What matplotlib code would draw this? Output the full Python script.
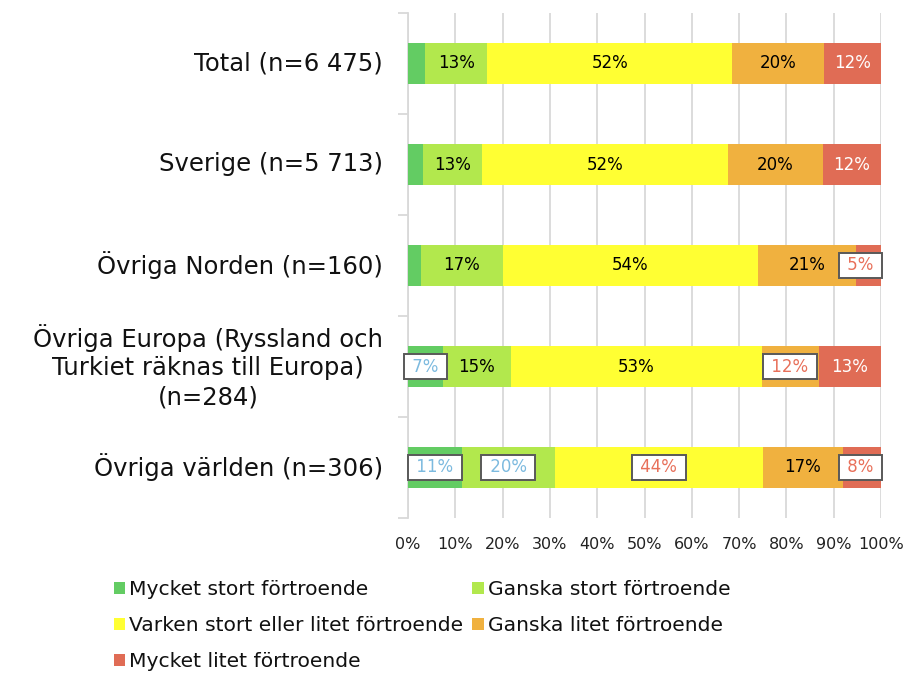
import matplotlib
matplotlib.use("Agg")
import matplotlib.pyplot as plt
from matplotlib.patches import Patch
from matplotlib.transforms import blended_transform_factory, offset_copy
import numpy as np

categories = [
    "Total (n=6 475)",
    "Sverige (n=5 713)",
    "Övriga Norden (n=160)",
    "Övriga Europa (Ryssland och\nTurkiet räknas till Europa)\n(n=284)",
    "Övriga världen (n=306)",
]
series_names = [
    "Mycket stort förtroende",
    "Ganska stort förtroende",
    "Varken stort eller litet förtroende",
    "Ganska litet förtroende",
    "Mycket litet förtroende",
]
# values in percent (per category)
mycket_stort = [3.6, 3.1, 2.7, 7.3, 11.4]
ganska_stort = [13.2, 12.5, 17.3, 14.4, 19.6]
varken = [51.7, 52.1, 54.1, 53.1, 44.1]
ganska_litet = [19.5, 20.0, 20.7, 12.0, 16.8]
mycket_litet = [12.0, 12.3, 5.2, 13.2, 8.1]

# displayed labels ("" = no label)
lab_mycket_stort = ["", "", "", "7%", "11%"]
lab_ganska_stort = ["13%", "13%", "17%", "15%", "20%"]
lab_varken = ["52%", "52%", "54%", "53%", "44%"]
lab_ganska_litet = ["20%", "20%", "21%", "12%", "17%"]
lab_mycket_litet = ["12%", "12%", "5%", "13%", "8%"]

xticks = [0, 10, 20, 30, 40, 50, 60, 70, 80, 90, 100]
xticklabels = ["0%", "10%", "20%", "30%", "40%", "50%", "60%", "70%", "80%", "90%", "100%"]

# styling
colors = ["#63cc63", "#b2e84d", "#ffff33", "#f0b13f", "#e06c55"]
plain_text_colors = ["black", "black", "black", "black", "white"]
boxed_text_colors = ["#7cbadf", "#7cbadf", "#e8705a", "#e8705a", "#e8705a"]
boxed = {(2, 4), (3, 0), (3, 3), (4, 0), (4, 1), (4, 2), (4, 4)}

plt.rcParams["font.family"] = ["DejaVu Sans"]

values = [mycket_stort, ganska_stort, varken, ganska_litet, mycket_litet]
labels = [lab_mycket_stort, lab_ganska_stort, lab_varken, lab_ganska_litet, lab_mycket_litet]

fig = plt.figure(figsize=(9.07, 6.75), dpi=100)
W, H = 907, 675
ax = fig.add_axes([408 / W, 1 - 518 / H, (881 - 408) / W, (518 - 13) / H])

y = np.arange(len(categories))
left = np.zeros(len(categories))
handles = []
boxed_texts = []
for si, (vals, labs) in enumerate(zip(values, labels)):
    vals = np.array(vals)
    ax.barh(y, vals, left=left, height=0.4, color=colors[si], zorder=3)
    for ci in range(len(categories)):
        if not labs[ci]:
            continue
        cx = left[ci] + vals[ci] / 2
        if (ci, si) in boxed:
            t = ax.text(cx, y[ci], " " + labs[ci] + " ", ha="center", va="center", fontsize=12,
                        color=boxed_text_colors[si], zorder=5,
                        bbox=dict(boxstyle="square,pad=0.2", fc="white", ec="#595959", lw=1.4))
            boxed_texts.append(t)
        else:
            ax.text(cx, y[ci], labs[ci], ha="center", va="center", fontsize=12,
                    color=plain_text_colors[si], zorder=5)
    left = left + vals
    handles.append(Patch(facecolor=colors[si], label=series_names[si]))

ax.set_xlim(0, 100)
ax.set_ylim(len(categories) - 0.5, -0.5)
ax.set_xticks(xticks)
ax.set_xticklabels(xticklabels, fontsize=11.5)
ax.tick_params(axis="x", length=0, pad=14, colors="#222222")
ax.set_yticks(y)
ax.set_yticklabels(categories, fontsize=17.5, ha="right", va="center",
                   multialignment="center", linespacing=1.25)
ax.tick_params(axis="y", length=0, pad=0, colors="#111111")
for t in ax.get_yticklabels():
    t.set_transform(blended_transform_factory(fig.transFigure, ax.transData))
    t.set_x(383 / W)
    t.set_va("center")
# boundary ticks
ax.set_yticks(np.arange(-0.5, len(categories), 1.0), minor=True)
ax.tick_params(axis="y", which="minor", length=7, color="#d9d9d9", width=1.3, direction="out")
ax.grid(axis="x", color="#d9d9d9", lw=1.3, zorder=0)
for s in ["top", "right", "bottom"]:
    ax.spines[s].set_visible(False)
ax.spines["left"].set_color("#d9d9d9")
ax.spines["left"].set_linewidth(1.3)

# keep boxed labels inside the plot area (as the original does)
fig.canvas.draw()
renderer = fig.canvas.get_renderer()
ax_right = ax.get_window_extent(renderer).x1
for t in boxed_texts:
    bb = t.get_bbox_patch().get_window_extent(renderer)
    overflow = bb.x1 - (ax_right + 1)
    if overflow > 0:
        t.set_transform(offset_copy(ax.transData, fig=fig, x=-overflow, y=0, units="dots"))

order = [0, 2, 4, 1, 3]
leg = fig.legend([handles[i] for i in order], [series_names[i] for i in order],
                 loc="upper left", bbox_to_anchor=(114 / W, 1 - 580 / H), ncol=2,
                 frameon=False, fontsize=14.6, handlelength=0.55, handleheight=0.55,
                 handletextpad=0.2, columnspacing=0.45, labelspacing=0.85,
                 borderaxespad=0, borderpad=0)
for txt in leg.get_texts():
    txt.set_color("#111111")

fig.savefig("out.png", dpi=100)
